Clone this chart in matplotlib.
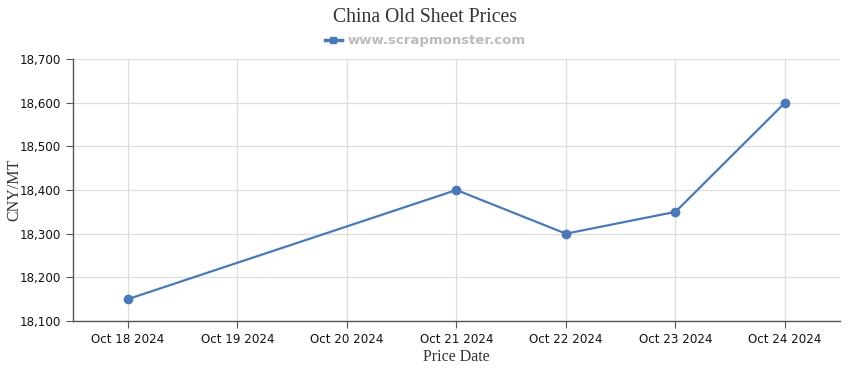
import matplotlib
matplotlib.use('Agg')
import matplotlib.pyplot as plt
from matplotlib.lines import Line2D
from matplotlib.ticker import FuncFormatter

# axis categories and series
all_dates = ['Oct 18 2024', 'Oct 19 2024', 'Oct 20 2024', 'Oct 21 2024',
             'Oct 22 2024', 'Oct 23 2024', 'Oct 24 2024']
price_dates = ['Oct 18 2024', 'Oct 21 2024', 'Oct 22 2024', 'Oct 23 2024', 'Oct 24 2024']
prices = [18150, 18400, 18300, 18350, 18600]
y_ticks = [18100, 18200, 18300, 18400, 18500, 18600, 18700]

line_col = '#4a7ab5'

fig = plt.figure(figsize=(8.5, 3.7), dpi=100)
ax = fig.add_axes([0.0859, 0.1324, 0.9021, 0.7081])

xs = [all_dates.index(d) for d in price_dates]
ax.plot(xs, prices, color=line_col, lw=1.6, marker='o', ms=6, zorder=3)

ax.set_xlim(-0.5, len(all_dates) - 0.5)
ax.set_ylim(y_ticks[0], y_ticks[-1])
ax.set_xticks(range(len(all_dates)))
ax.set_xticklabels(all_dates)
ax.set_yticks(y_ticks)
ax.yaxis.set_major_formatter(FuncFormatter(lambda v, p: '{:,.0f}'.format(v)))

ax.grid(True, color='#dddddd', lw=0.9)
ax.set_axisbelow(True)
for s in ['top', 'right']:
    ax.spines[s].set_visible(False)
for s in ['left', 'bottom']:
    ax.spines[s].set_color('#555555')
    ax.spines[s].set_linewidth(1)
ax.tick_params(axis='both', colors='#555555', labelcolor='#111111', labelsize=8.6, length=5)

ax.set_xlabel('Price Date', family='Liberation Serif', fontsize=11.5, color='#333333', labelpad=2)
ax.set_ylabel('CNY/MT', family='Liberation Serif', fontsize=11.5, color='#333333')
ax.yaxis.set_label_coords(-0.066, 0.5)

fig.text(0.5, 0.952, 'China Old Sheet Prices', ha='center', va='center',
         family='Liberation Serif', fontsize=14.2, color='#333333')

h = Line2D([], [], color=line_col, lw=2.5, marker='s', ms=5)
fig.legend([h], ['www.scrapmonster.com'], loc='center', bbox_to_anchor=(0.5, 0.89),
           frameon=False, handlelength=1.3, handletextpad=0.4,
           prop={'weight': 'bold', 'size': 9.5}, labelcolor='#bbbbbb')

fig.savefig('out.png', dpi=100)
